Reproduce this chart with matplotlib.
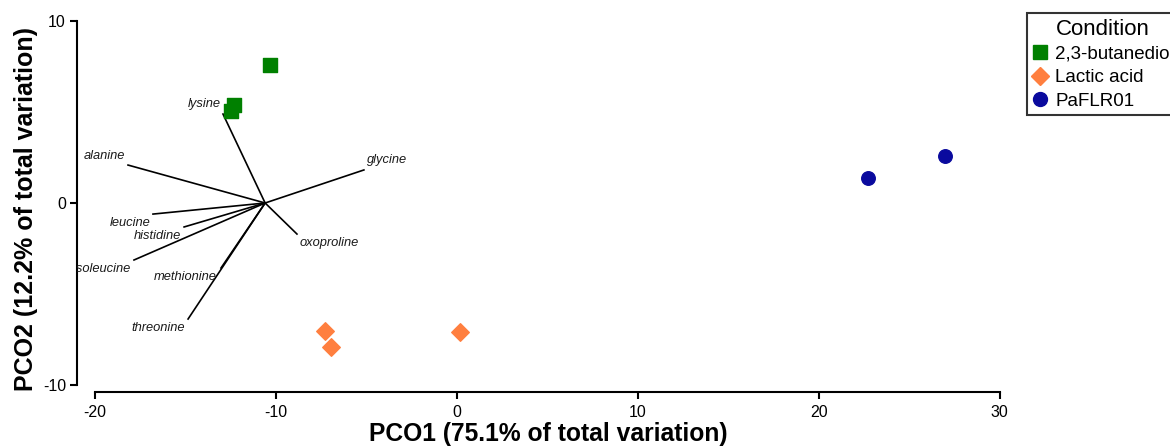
import matplotlib
matplotlib.use("Agg")
import matplotlib.pyplot as plt
from matplotlib.lines import Line2D

plt.rcParams['font.family'] = ['Liberation Sans', 'DejaVu Sans']
plt.rcParams['axes.unicode_minus'] = False

# sample scores on the first two principal coordinates
butanediol_x = [-10.35, -12.3, -12.5]
butanediol_y = [7.6, 5.4, 5.05]
lactic_x = [-7.3, -6.95, 0.15]
lactic_y = [-7.05, -7.95, -7.1]
paflr_x = [22.75, 27.0]
paflr_y = [1.38, 2.6]

# vector overlay (end points, drawn from a common origin)
vec_origin = (-10.6, 0.0)
vec_names = ['lysine', 'alanine', 'glycine', 'leucine', 'histidine',
             'isoleucine', 'methionine', 'threonine', 'oxoproline']
vec_x = [-12.93, -18.18, -5.14, -16.8, -15.08, -17.85, -13.04, -14.86, -8.84]
vec_y = [4.90, 2.09, 1.82, -0.61, -1.32, -3.14, -3.58, -6.39, -1.71]

# where each label sits relative to its vector tip (points), and alignment
lab_off = {
    'lysine': (-1.5, 7, 'right'),
    'alanine': (-2, 6.5, 'right'),
    'glycine': (2, 7, 'left'),
    'leucine': (-2, -6.5, 'right'),
    'histidine': (-2, -6.5, 'right'),
    'isoleucine': (-2, -6.5, 'right'),
    'methionine': (-3, -6.5, 'right'),
    'threonine': (-2, -6.5, 'right'),
    'oxoproline': (2, -6.5, 'left'),
}

green = '#008000'
orange = '#FF7F3F'
blue = '#0A0A9E'

fig = plt.figure(figsize=(11.7, 4.46), dpi=100)
ax = fig.add_axes([77 / 1170, 54 / 446, 928 / 1170, 376 / 446])

ax.scatter(butanediol_x, butanediol_y, marker='s', s=105, color=green, zorder=3)
ax.scatter(lactic_x, lactic_y, marker='D', s=80, color=orange, zorder=3)
ax.scatter(paflr_x, paflr_y, marker='o', s=95, color=blue, zorder=3)

for name, x, y in zip(vec_names, vec_x, vec_y):
    ax.plot([vec_origin[0], x], [vec_origin[1], y], color='black', lw=1.2, zorder=2)
    dx, dy, ha = lab_off[name]
    ax.annotate(name, (x, y), xytext=(dx, dy), textcoords='offset points',
                ha=ha, va='center', style='italic', fontsize=9.3,
                color='#1a1a1a', annotation_clip=False, clip_on=True)

ax.set_xlim(-21.0, 30.3)
ax.set_ylim(-10.41, 10.3)
ax.set_xticks([-20, -10, 0, 10, 20, 30])
ax.set_yticks([-10, 0, 10])
ax.spines['top'].set_visible(False)
ax.spines['right'].set_visible(False)
ax.spines['left'].set_bounds(-10, 10)
ax.spines['bottom'].set_bounds(-20, 30)
for s in ('left', 'bottom'):
    ax.spines[s].set_linewidth(1.5)
ax.tick_params(width=1.5, length=5, labelsize=11.5, colors='black', pad=3)
ax.tick_params(axis='x', pad=4.5)
for lab in ax.get_xticklabels() + ax.get_yticklabels():
    lab.set_family(['Liberation Sans Narrow', 'Liberation Sans'])

ax.set_xlabel('PCO1 (75.1% of total variation)', fontsize=17.7, fontweight='bold')
ax.set_ylabel('PCO2 (12.2% of total variation)', fontsize=18, fontweight='bold')
ax.xaxis.set_label_coords(0.5075, -0.081, transform=ax.transAxes)
ax.yaxis.set_label_coords(-0.0425, 0.487, transform=ax.transAxes)

handles = [
    Line2D([], [], marker='s', ls='', color=green, markersize=10, label='2,3-butanediol'),
    Line2D([], [], marker='D', ls='', color=orange, markersize=9, label='Lactic acid'),
    Line2D([], [], marker='o', ls='', color=blue, markersize=10, label='PaFLR01'),
]
leg = fig.legend(handles=handles, title='Condition', loc='upper left',
                 bbox_to_anchor=(1027 / 1170, 1 - 13 / 446), fontsize=13.5,
                 title_fontsize=16, frameon=True, fancybox=False,
                 handlelength=0.8, handletextpad=0.4, borderpad=0.3,
                 labelspacing=0.33, borderaxespad=0)
leg.get_frame().set_edgecolor('black')
leg.get_frame().set_linewidth(1.5)

fig.savefig('out.png', dpi=100)
